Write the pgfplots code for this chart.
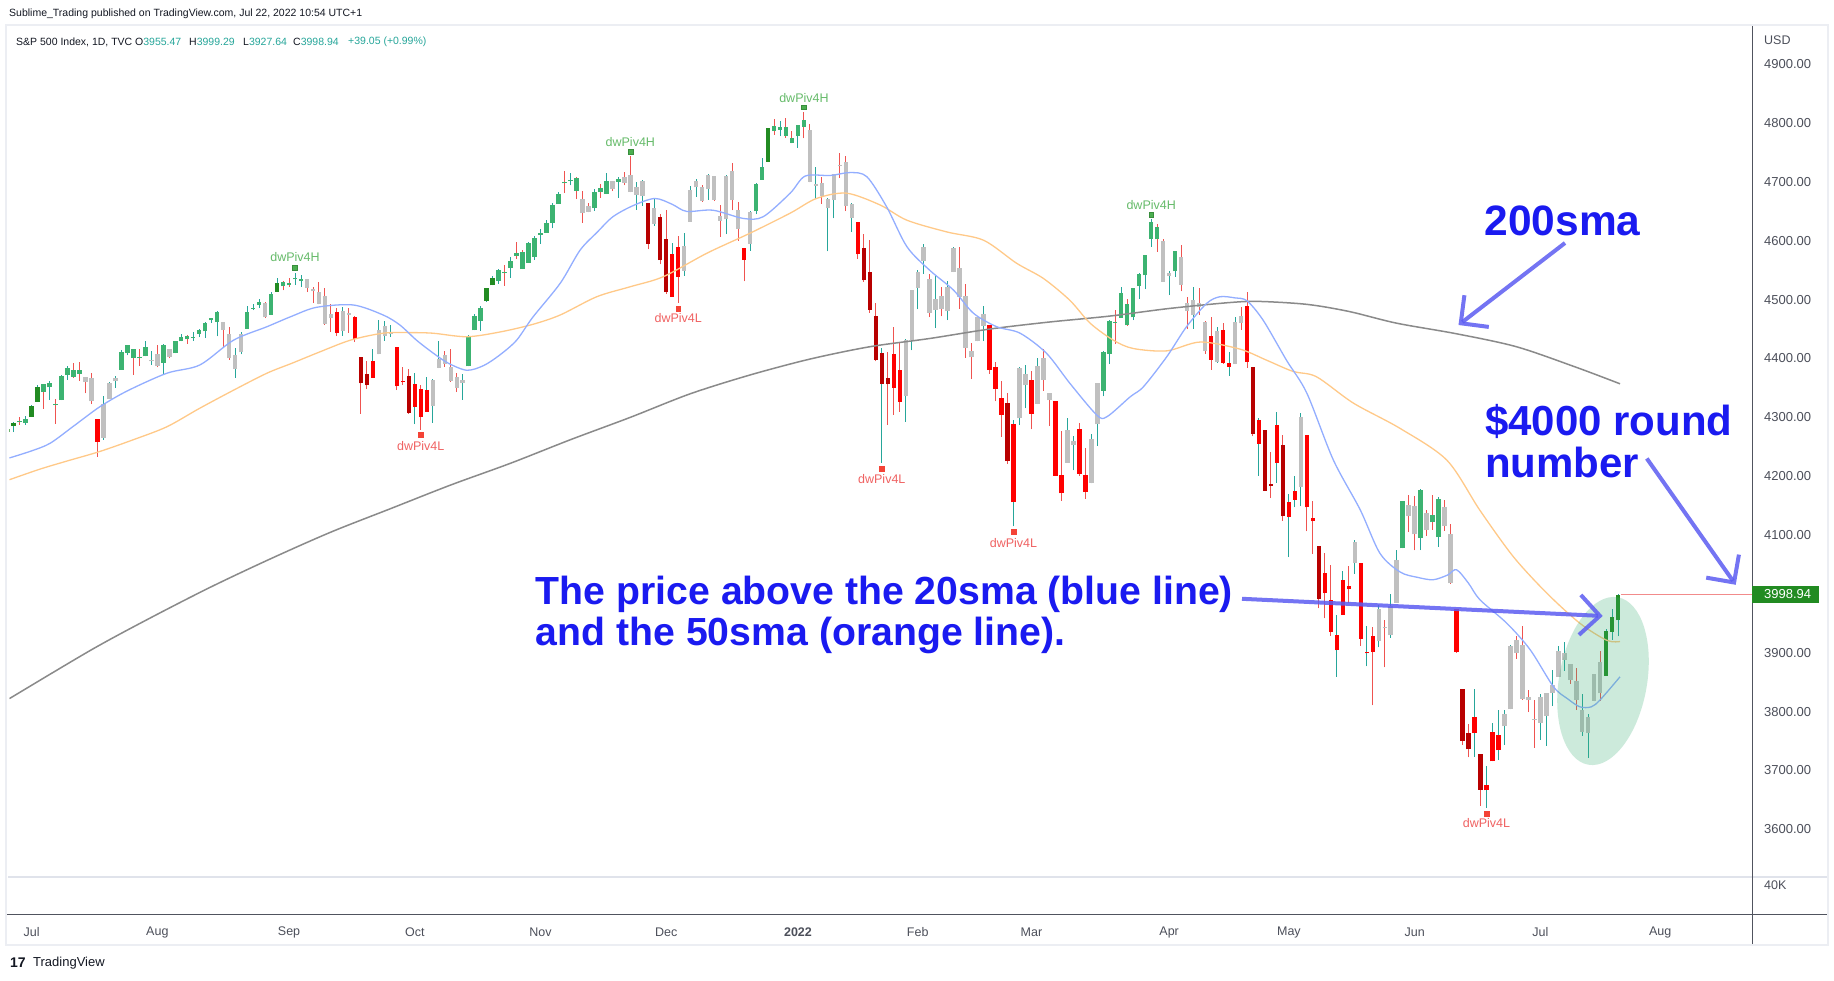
\documentclass[border=0pt]{standalone}
\usepackage{fontspec}
\setmainfont{Liberation Sans}
\usepackage{pgfplots}
\usepackage{pgfplotstable}
\pgfplotsset{compat=1.18}
\usetikzlibrary{arrows.meta,backgrounds}

\definecolor{upGreen}{HTML}{3CB371}
\definecolor{upDark}{HTML}{228B22}
\definecolor{flatGrey}{HTML}{C0C0C0}
\definecolor{dnRed}{HTML}{FF0000}
\definecolor{dnDark}{HTML}{B80000}
\definecolor{wickUp}{HTML}{26A69A}
\definecolor{wickDn}{HTML}{EF5350}
\definecolor{smaA}{HTML}{93AEFF}
\definecolor{smaB}{HTML}{FFC988}
\definecolor{smaC}{HTML}{8A8A8A}
\definecolor{ink}{HTML}{131722}
\definecolor{scaleText}{HTML}{4C4F5A}
\definecolor{frameGrey}{HTML}{ECEEF3}
\definecolor{sepGrey}{HTML}{E0E3EB}
\definecolor{axisDark}{HTML}{50535E}
\definecolor{pivH}{HTML}{4CAF50}
\definecolor{pivHd}{HTML}{388E3C}
\definecolor{pivHtext}{HTML}{66BB6A}
\definecolor{pivL}{HTML}{F44336}
\definecolor{pivLtext}{HTML}{F06262}
\definecolor{annot}{HTML}{1A1AF0}
\definecolor{arrowBlue}{HTML}{5C5CF2}
\definecolor{ellGreen}{HTML}{37AF73}
\definecolor{priceLine}{HTML}{F28B8B}
\definecolor{lastBox}{HTML}{228B22}
\definecolor{hdrNum}{HTML}{26A69A}

\newcommand{\fs}[1]{\fontsize{#1}{#1}\selectfont}

% i = trading-day index (0 = 1 Jul 2021), o h l c, k = bar colour group
\pgfplotstableread{
i o h l c k
-4 4274.4 4286.1 4271.2 4280.7 2
-3 4284.9 4292.1 4274.7 4290.6 2
-2 4293.2 4300.5 4287.0 4291.8 1
-1 4290.7 4302.4 4287.0 4297.5 1
0 4300.7 4320.7 4300.7 4319.9 2
1 4326.6 4355.4 4326.6 4352.3 2
2 4356.5 4356.5 4314.4 4343.5 1
3 4351.0 4361.9 4329.8 4358.1 1
4 4321.1 4330.9 4289.4 4320.8 1
5 4329.4 4371.6 4329.4 4369.6 1
6 4372.4 4386.7 4364.0 4384.6 1
7 4381.1 4392.4 4366.9 4369.2 1
8 4380.1 4393.7 4362.4 4374.3 1
9 4369.0 4369.0 4340.7 4360.0 3
10 4367.4 4375.1 4322.5 4327.2 3
11 4296.4 4296.4 4233.1 4258.5 4
12 4265.1 4336.8 4262.1 4323.1 3
13 4331.1 4359.7 4331.1 4358.7 3
14 4361.3 4369.9 4350.1 4367.5 3
15 4381.2 4415.2 4381.2 4411.8 1
16 4409.6 4422.7 4405.5 4422.3 1
17 4416.4 4416.4 4372.5 4401.5 1
18 4402.9 4415.5 4387.0 4400.6 1
19 4403.6 4430.0 4403.6 4419.2 1
20 4395.1 4412.3 4389.7 4395.3 3
21 4406.9 4422.2 4384.8 4387.2 3
22 4392.7 4423.8 4373.0 4423.2 1
23 4415.9 4416.2 4400.2 4402.7 3
24 4408.9 4429.8 4408.9 4429.1 1
25 4429.1 4440.8 4429.1 4436.5 1
26 4437.8 4439.4 4424.7 4432.4 1
27 4435.8 4445.2 4430.0 4436.8 1
28 4442.2 4449.4 4436.4 4447.7 1
29 4446.1 4461.8 4435.5 4460.8 1
30 4464.8 4468.4 4460.6 4468.0 1
31 4461.7 4480.3 4437.7 4479.7 1
32 4462.1 4462.1 4417.8 4448.1 3
33 4440.9 4454.3 4397.6 4400.3 3
34 4382.4 4418.6 4367.7 4405.8 3
35 4410.6 4444.4 4406.8 4441.7 3
36 4450.3 4489.9 4450.3 4479.5 1
37 4484.4 4492.8 4482.3 4486.2 1
38 4490.5 4501.7 4485.7 4496.2 1
39 4493.8 4495.9 4469.0 4470.0 3
40 4474.1 4513.3 4474.1 4509.4 1
41 4513.8 4537.4 4513.8 4528.8 2
42 4529.8 4531.4 4515.8 4522.7 1
43 4528.8 4537.1 4522.0 4524.1 1
44 4534.5 4545.9 4524.7 4537.0 1
45 4532.4 4541.5 4521.9 4535.4 1
46 4535.4 4535.4 4513.0 4520.0 3
47 4518.1 4521.8 4493.9 4514.1 3
48 4513.0 4529.9 4492.1 4493.3 3
49 4506.9 4520.5 4457.7 4458.6 3
50 4474.8 4492.0 4445.7 4468.7 3
51 4479.3 4485.7 4438.0 4443.1 4
52 4447.5 4486.9 4438.4 4480.7 3
53 4477.1 4485.9 4443.8 4473.8 3
54 4469.7 4471.5 4427.8 4433.0 4
55 4402.9 4402.9 4305.9 4357.7 5
56 4374.5 4394.9 4348.0 4354.2 5
57 4367.4 4416.8 4367.4 4395.6 4
58 4406.8 4465.4 4406.8 4449.0 3
59 4438.0 4463.1 4430.3 4455.5 3
60 4442.1 4457.3 4436.2 4443.1 3
61 4419.5 4419.5 4346.3 4352.6 4
62 4362.4 4385.6 4355.1 4359.5 4
63 4370.7 4382.6 4306.2 4307.5 5
64 4317.2 4375.2 4288.5 4357.0 4
65 4348.8 4355.5 4278.9 4300.5 4
66 4309.9 4369.2 4309.9 4345.7 4
67 4319.6 4365.6 4290.5 4363.6 3
68 4383.7 4429.0 4383.7 4399.8 3
69 4406.5 4412.0 4386.2 4391.3 3
70 4385.4 4415.9 4360.6 4361.2 3
71 4368.3 4374.9 4342.9 4350.7 3
72 4358.0 4372.9 4329.9 4363.8 3
73 4386.8 4439.7 4386.8 4438.3 1
74 4447.7 4475.8 4447.7 4471.4 1
75 4463.7 4488.8 4447.5 4486.5 1
76 4497.3 4520.4 4496.4 4519.6 2
77 4524.4 4540.9 4524.4 4536.2 2
78 4532.2 4551.4 4526.9 4549.8 1
79 4546.1 4559.7 4524.0 4544.9 1
80 4553.7 4572.6 4537.4 4566.5 1
81 4578.7 4598.5 4569.2 4574.8 1
82 4580.2 4584.6 4551.7 4551.7 1
83 4562.8 4597.6 4562.8 4596.4 1
84 4572.9 4608.1 4567.6 4605.4 1
85 4610.6 4620.3 4595.1 4613.7 1
86 4613.3 4635.2 4613.3 4630.7 1
87 4630.6 4663.5 4621.2 4660.6 1
88 4662.9 4683.0 4662.6 4680.1 1
89 4699.3 4718.5 4681.3 4697.5 1
90 4701.5 4714.9 4694.4 4701.7 1
91 4707.3 4708.5 4670.9 4685.3 1
92 4670.3 4684.9 4630.9 4646.7 3
93 4659.4 4664.6 4648.3 4649.3 3
94 4655.2 4688.5 4650.8 4682.9 1
95 4689.3 4697.4 4672.9 4682.8 1
96 4679.4 4714.9 4679.4 4700.9 1
97 4701.5 4701.5 4684.4 4688.7 3
98 4700.7 4708.8 4672.8 4704.5 1
99 4708.4 4717.8 4694.2 4698.0 3
100 4712.0 4743.8 4682.2 4682.9 3
101 4678.5 4699.4 4652.7 4690.7 3
102 4675.8 4702.9 4659.9 4701.5 3
103 4664.6 4664.6 4585.4 4594.6 5
104 4628.8 4672.9 4625.3 4655.3 3
105 4640.3 4646.0 4560.0 4567.0 5
106 4602.8 4652.9 4510.3 4513.0 5
107 4504.7 4595.5 4504.7 4577.1 4
108 4589.5 4608.0 4495.1 4538.4 4
109 4548.4 4612.6 4540.5 4591.7 3
110 4632.0 4694.0 4632.0 4686.8 3
111 4690.9 4705.1 4674.5 4701.2 3
112 4691.0 4695.3 4666.0 4667.5 3
113 4687.6 4713.6 4670.2 4712.0 3
114 4710.3 4710.3 4667.6 4669.0 3
115 4642.0 4660.5 4606.5 4634.1 3
116 4636.5 4712.6 4611.2 4709.9 3
117 4719.1 4732.0 4651.9 4668.7 3
118 4652.5 4666.7 4600.2 4620.6 3
119 4587.9 4587.9 4531.1 4568.0 4
120 4595.0 4651.1 4583.2 4649.2 3
121 4650.4 4697.7 4645.5 4696.6 1
122 4704.0 4740.7 4704.0 4725.8 1
123 4734.0 4791.5 4734.0 4791.2 2
124 4795.5 4807.0 4780.0 4786.4 1
125 4788.6 4804.1 4778.1 4793.1 1
126 4794.2 4808.9 4775.3 4778.7 1
127 4775.2 4786.8 4765.8 4766.2 1
128 4778.1 4796.6 4758.2 4796.6 1
129 4804.5 4818.6 4774.3 4793.5 1
130 4788.0 4797.7 4699.4 4700.6 3
131 4693.4 4725.0 4671.3 4696.1 3
132 4697.7 4708.0 4662.7 4677.0 3
133 4655.3 4673.0 4582.2 4670.3 3
134 4669.1 4714.1 4638.3 4713.1 3
135 4728.6 4748.8 4706.7 4726.4 3
136 4733.6 4744.1 4650.3 4659.0 3
137 4638.0 4665.1 4614.8 4662.9 3
138 4632.2 4632.2 4568.7 4577.1 4
139 4588.0 4611.6 4530.2 4532.8 5
140 4547.4 4602.1 4478.0 4482.7 5
141 4471.4 4494.5 4395.3 4397.9 5
142 4356.3 4417.4 4222.6 4410.1 5
143 4366.6 4411.0 4287.1 4356.5 5
144 4408.4 4453.2 4304.8 4349.9 4
145 4380.6 4428.7 4309.5 4326.5 4
146 4336.2 4432.7 4292.5 4431.9 3
147 4431.8 4516.9 4414.0 4515.6 3
148 4519.6 4550.5 4483.5 4546.5 3
149 4566.4 4595.3 4544.3 4589.4 3
150 4535.4 4542.9 4470.4 4477.4 3
151 4482.8 4539.7 4451.5 4500.5 3
152 4505.8 4521.9 4471.5 4483.9 3
153 4480.0 4531.3 4465.4 4521.5 3
154 4547.0 4590.0 4547.0 4587.2 3
155 4553.2 4588.9 4484.3 4504.1 3
156 4506.3 4526.3 4401.4 4418.6 3
157 4412.6 4426.2 4364.8 4401.7 3
158 4429.3 4472.8 4429.3 4471.1 3
159 4455.8 4489.6 4429.7 4475.0 3
160 4456.1 4456.1 4373.8 4380.3 4
161 4385.6 4394.8 4327.2 4348.9 4
162 4332.7 4362.1 4267.1 4304.8 4
163 4324.9 4341.5 4221.5 4225.5 5
164 4155.8 4294.7 4114.7 4288.7 4
165 4298.4 4385.3 4286.8 4384.7 3
166 4354.2 4388.8 4315.1 4373.9 3
167 4363.1 4378.5 4279.5 4306.3 4
168 4322.6 4401.5 4322.6 4386.5 3
169 4401.3 4416.8 4345.6 4363.5 3
170 4342.1 4342.1 4285.0 4328.9 3
171 4327.0 4327.0 4199.9 4201.1 4
172 4202.7 4276.9 4157.9 4170.7 4
173 4223.1 4299.4 4223.1 4277.9 3
174 4252.6 4268.3 4209.8 4259.5 3
175 4279.5 4291.0 4200.5 4204.3 4
176 4202.8 4247.6 4161.7 4173.1 4
177 4188.8 4271.1 4187.9 4262.5 3
178 4288.1 4358.0 4252.0 4357.9 3
179 4345.1 4412.7 4335.7 4411.7 1
180 4407.3 4465.4 4390.6 4463.1 1
181 4462.4 4481.8 4424.3 4461.2 1
182 4469.1 4522.0 4469.1 4511.6 1
183 4493.1 4501.1 4455.8 4456.2 1
184 4470.0 4520.6 4465.2 4520.2 1
185 4522.9 4546.0 4501.1 4543.1 1
186 4541.1 4575.7 4517.7 4575.5 1
187 4602.9 4637.3 4589.7 4631.6 1
188 4624.2 4627.8 4581.3 4602.5 1
189 4599.0 4603.1 4530.4 4530.4 3
190 4540.3 4548.7 4507.6 4545.9 3
191 4548.0 4583.5 4539.2 4582.6 1
192 4572.5 4593.5 4514.2 4525.1 3
193 4494.2 4503.9 4450.0 4481.2 3
194 4474.7 4521.2 4450.3 4500.2 3
195 4494.2 4520.4 4474.6 4488.3 3
196 4462.6 4464.4 4408.4 4412.5 3
197 4437.6 4471.0 4381.3 4397.5 4
198 4394.3 4453.9 4392.7 4446.6 3
199 4449.1 4460.5 4390.8 4392.6 4
200 4385.6 4410.3 4370.3 4391.7 4
201 4390.6 4471.0 4390.6 4462.2 3
202 4472.3 4488.3 4448.8 4459.5 3
203 4489.2 4512.9 4384.5 4393.7 4
204 4385.8 4385.8 4267.6 4271.8 5
205 4255.3 4299.0 4200.8 4296.1 4
206 4278.1 4278.1 4175.0 4175.2 5
207 4186.5 4240.7 4162.9 4184.0 5
208 4222.6 4308.5 4188.6 4287.5 4
209 4253.8 4269.7 4124.3 4131.9 5
210 4130.6 4169.8 4062.5 4155.4 4
211 4159.8 4200.1 4147.1 4175.5 4
212 4181.2 4307.7 4148.9 4300.2 3
213 4270.4 4270.4 4106.0 4146.9 4
214 4128.2 4157.7 4067.9 4123.3 4
215 4081.3 4081.3 3975.5 3991.2 5
216 4035.2 4068.8 3958.2 4001.1 4
217 3990.1 4049.1 3928.8 3935.2 4
218 3904.0 3964.8 3858.9 3930.1 4
219 3963.9 4038.9 3963.9 4023.9 4
220 4013.0 4046.5 3984.0 4008.0 4
221 4052.0 4090.7 4033.9 4088.9 3
222 4052.0 4052.0 3911.9 3923.7 4
223 3899.0 3946.0 3876.6 3900.8 4
224 3927.8 3943.4 3810.3 3901.4 4
225 3919.4 3981.9 3909.0 3973.8 3
226 3942.9 3955.7 3875.1 3941.5 3
227 3929.6 3999.3 3925.0 3978.7 3
228 3984.6 4075.1 3984.6 4057.8 3
229 4077.4 4158.5 4077.4 4158.2 1
230 4151.1 4168.3 4104.9 4132.2 3
231 4149.8 4166.5 4073.9 4101.2 3
232 4095.4 4177.5 4074.4 4176.8 1
233 4137.6 4142.7 4098.7 4108.5 3
234 4134.7 4168.8 4109.2 4121.4 1
235 4096.5 4164.9 4080.2 4160.7 1
236 4147.1 4160.1 4107.2 4115.8 3
237 4101.7 4119.1 4017.2 4017.8 3
238 3974.4 3974.4 3900.2 3900.9 4
239 3838.2 3838.2 3743.6 3749.6 5
240 3763.5 3778.2 3722.3 3735.5 5
241 3764.1 3837.9 3723.1 3790.0 4
242 3728.2 3728.2 3639.8 3666.8 5
243 3665.9 3707.7 3636.9 3674.8 4
244 3715.3 3779.7 3715.3 3764.8 4
245 3733.9 3801.8 3717.7 3759.9 4
246 3774.7 3802.6 3743.5 3795.7 3
247 3803.5 3913.7 3803.5 3911.7 3
248 3920.8 3927.7 3889.7 3900.1 3
249 3913.0 3945.9 3820.1 3821.6 3
250 3825.1 3836.5 3799.0 3818.8 3
251 3786.0 3819.0 3738.7 3785.4 3
252 3781.0 3829.8 3752.1 3825.3 3
253 3792.6 3832.2 3742.1 3831.4 3
254 3832.0 3870.9 3809.4 3845.1 3
255 3858.9 3910.6 3858.9 3902.6 3
256 3888.3 3918.5 3869.3 3899.4 3
257 3880.9 3880.9 3847.2 3854.4 3
258 3852.0 3873.4 3802.4 3818.8 3
259 3765.0 3829.4 3759.1 3801.8 3
260 3764.0 3796.4 3721.6 3790.4 3
261 3818.0 3863.6 3817.2 3863.2 3
262 3883.8 3902.4 3818.6 3830.9 3
263 3860.7 3939.8 3860.7 3936.7 2
264 3935.3 3974.1 3922.0 3959.9 2
265 3955.5 3999.3 3927.6 3998.9 2
}\candles

% moving averages
\pgfplotstableread{
i p
-3.7 4231
0 4243
3.1 4256
7 4285
11.4 4318
16 4345
22.6 4375
28.1 4389
33.7 4431
39.3 4454
43.5 4472
47.6 4487
53.7 4491
58.7 4474
61.5 4457
64.3 4431
67.1 4409
69.6 4392
72.7 4380
75.5 4388
78.2 4406
81 4431
83.7 4470
88.3 4528
91.6 4584
94.5 4615
97.1 4641
100.5 4660
104.1 4672
107 4662
109.4 4650
113.8 4652
118.9 4638
122.2 4641
126.7 4681
129.2 4710
133.4 4711
136.7 4716
139.5 4709
142.8 4658
146.2 4590
150 4550
154 4516
157.3 4477
161.2 4454
165.1 4443
169.5 4409
173.4 4358
177.9 4304
179.6 4301
183.5 4335
185.7 4352
189.6 4403
192.9 4454
196.3 4494
198.5 4505
201 4503
203 4498
205.7 4465
209.6 4397
213 4341
217.4 4228
221.9 4143
225.2 4069
228.6 4037
231.5 4028
234.1 4024
236.5 4032
238 4041
240 4018
241.9 3990
246.4 3950
250.3 3905
254.2 3842
256.5 3822
258.6 3808
260.5 3808
262 3820
265.3 3859
}\smaTwenty

\pgfplotstableread{
i p
-3.7 4194
1.4 4212
6 4226
11.4 4242
17 4262
22.6 4284
28 4315
33.7 4346
39.3 4375
43.5 4392
47.6 4409
53.2 4431
58.7 4443
63 4444
67 4443
72.7 4437
78.2 4445
83.7 4458
88.3 4474
94.4 4505
100 4522
105.5 4539
112.8 4579
120 4613
126.7 4647
131.1 4672
136.1 4681
141.7 4661
146.2 4635
152.9 4615
159 4601
164.5 4562
169 4536
173.4 4499
176.8 4460
180.7 4431
184 4417
189.6 4413
195.2 4428
201.8 4416
206.3 4397
210.7 4378
214.6 4369
220.8 4324
228.6 4281
236.4 4227
241.9 4142
247.5 4063
253.1 4001
258.6 3950
263.1 3921
265.3 3919
}\smaFifty

\pgfplotstableread{
i p
-3.7 3822
10 3905
20 3960
30 4012
40 4060
50 4105
60 4145
70 4185
80 4222
90 4262
100 4300
110 4340
120 4372
130 4399
140 4420
150 4434
160 4450
170 4462
180 4472
190 4485
200 4495
205 4497
213 4492
220 4480
228 4460
238 4442
248 4420
258 4385
265.3 4357
}\smaTwoHundred

\pgfplotsset{
  wickplot/.style={draw=none, mark=none, forget plot,
    error bars/y dir=plus, error bars/y explicit, error bars/error mark=none,
    error bars/error bar style={draw=#1, line width=1pt}},
  bodyplot/.style={draw=none, mark=none, forget plot,
    error bars/y dir=plus, error bars/y explicit, error bars/error mark=none,
    error bars/error bar style={draw=#1, line width=4.4pt}},
}

\begin{document}
\begin{tikzpicture}[x=1pt,y=1pt]
\begin{axis}[
  name=main,
  scale only axis, width=1742.6pt, height=852pt,
  xmin=-3.71, xmax=287.35, ymin=3518.8, ymax=4966.8,
  axis line style={draw=none}, tick style={draw=none}, major tick length=0pt,
  clip mode=individual,
  ytick={3600,3700,3800,3900,4100,4200,4300,4400,4500,4600,4700,4800,4900},
  yticklabels={3600.00,3700.00,3800.00,3900.00,4100.00,4200.00,4300.00,4400.00,4500.00,4600.00,4700.00,4800.00,4900.00},
  yticklabel pos=right,
  yticklabel style={anchor=west, inner sep=0pt, xshift=12pt, font=\fs{13}, text=scaleText},
  xtick={0,21,43,64,85,106,128,148,167,190,210,231,252,272},
  xticklabels={Jul,Aug,Sep,Oct,Nov,Dec,\textbf{2022},Feb,Mar,Apr,May,Jun,Jul,Aug},
  xticklabel style={anchor=center, inner sep=0pt, yshift=-55pt, font=\fs{12.5}, text=scaleText},
]
% wicks
\addplot[wickplot=wickUp, restrict expr to domain={\thisrow{c}-\thisrow{o}}{0:100000}]
  table[x=i, y=l, y error plus expr={\thisrow{h}-\thisrow{l}}] {\candles};
\addplot[wickplot=wickDn, restrict expr to domain={\thisrow{c}-\thisrow{o}}{-100000:-0.001}]
  table[x=i, y=l, y error plus expr={\thisrow{h}-\thisrow{l}}] {\candles};
% bodies by colour group
\addplot[bodyplot=upGreen, restrict expr to domain={\thisrow{k}}{0.5:1.5}]
  table[x=i, y expr={min(\thisrow{o},\thisrow{c})}, y error plus expr={max(abs(\thisrow{c}-\thisrow{o}),1.5)}] {\candles};
\addplot[bodyplot=upDark, restrict expr to domain={\thisrow{k}}{1.5:2.5}]
  table[x=i, y expr={min(\thisrow{o},\thisrow{c})}, y error plus expr={max(abs(\thisrow{c}-\thisrow{o}),1.5)}] {\candles};
\addplot[bodyplot=flatGrey, restrict expr to domain={\thisrow{k}}{2.5:3.5}]
  table[x=i, y expr={min(\thisrow{o},\thisrow{c})}, y error plus expr={max(abs(\thisrow{c}-\thisrow{o}),1.5)}] {\candles};
\addplot[bodyplot=dnRed, restrict expr to domain={\thisrow{k}}{3.5:4.5}]
  table[x=i, y expr={min(\thisrow{o},\thisrow{c})}, y error plus expr={max(abs(\thisrow{c}-\thisrow{o}),1.5)}] {\candles};
\addplot[bodyplot=dnDark, restrict expr to domain={\thisrow{k}}{4.5:5.5}]
  table[x=i, y expr={min(\thisrow{o},\thisrow{c})}, y error plus expr={max(abs(\thisrow{c}-\thisrow{o}),1.5)}] {\candles};

% moving averages
\addplot[smaC, line width=1.5pt, smooth, tension=0.5] table[x=i, y=p] {\smaTwoHundred};
\addplot[smaB, line width=1.3pt, smooth, tension=0.5] table[x=i, y=p] {\smaFifty};
\addplot[smaA, line width=1.3pt, smooth, tension=0.5] table[x=i, y=p] {\smaTwenty};

% last price line
\addplot[priceLine, line width=1.2pt] coordinates {(265.5,3998.94) (287.35,3998.94)};

% pivots
\addplot[only marks, mark=square*, mark size=2.4pt, mark options={fill=pivH, draw=pivHd}]
  coordinates {(44,4554) (100,4752) (129,4827) (187,4645)};
\addplot[only marks, mark=square*, mark size=2.4pt, mark options={fill=pivL, draw=pivL}]
  coordinates {(65,4270) (108,4485) (142,4213) (164,4105) (243,3627)};
\foreach \px/\py in {44/4572, 100/4768, 129/4843, 187/4661}
  {\edef\tmp{\noexpand\node[text=pivHtext, font=\noexpand\fs{12.5}] at (axis cs:\px,\py) {dwPiv4H};}\tmp}
\foreach \px/\py in {65/4252, 108/4468, 142/4196, 164/4087, 243/3610}
  {\edef\tmp{\noexpand\node[text=pivLtext, font=\noexpand\fs{12.5}] at (axis cs:\px,\py) {dwPiv4L};}\tmp}
\coordinate (AxSW) at (rel axis cs:0,0);
\end{axis}

% everything else in page pixels (origin bottom-left), tied to the axis corner
\begin{scope}[shift={(AxSW)}]
\begin{scope}[shift={(-9.4,-103)}]
\begin{scope}[on background layer]
\fill[white] (0,0) rectangle (1834,980);
\end{scope}
\node[anchor=west, inner sep=0pt, text=ink, font=\fs{10.5}] at (9,966)
  {Sublime\_Trading published on TradingView.com, Jul 22, 2022 10:54 UTC+1};
\draw[frameGrey, line width=2.5pt] (6,35) rectangle (1828,955);

% scales and panes
\draw[sepGrey, line width=1.2pt] (8,103) -- (1827,103);
\draw[axisDark, line width=1pt] (1752,36) -- (1752,954);
\draw[axisDark, line width=1pt] (7,66) -- (1827,66);
\node[anchor=west, inner sep=0pt, text=scaleText, font=\fs{12.5}] at (1764,940) {USD};
\node[anchor=west, inner sep=0pt, text=scaleText, font=\fs{12.5}] at (1764,95) {40K};
\fill[lastBox] (1752,377) rectangle (1819,394);
\node[anchor=west, inner sep=0pt, text=white, font=\fs{13}] at (1764,385.5) {3998.94};

% header
\node[anchor=west, inner sep=0pt, text=ink, font=\fs{10.5}] at (16,938) {S\&P 500 Index, 1D, TVC};
\node[anchor=west, inner sep=0pt, text=ink, font=\fs{10.5}] at (135,938) {O\textcolor{hdrNum}{3955.47}};
\node[anchor=west, inner sep=0pt, text=ink, font=\fs{10.5}] at (189,938) {H\textcolor{hdrNum}{3999.29}};
\node[anchor=west, inner sep=0pt, text=ink, font=\fs{10.5}] at (243,938) {L\textcolor{hdrNum}{3927.64}};
\node[anchor=west, inner sep=0pt, text=ink, font=\fs{10.5}] at (293,938) {C\textcolor{hdrNum}{3998.94}};
\node[anchor=west, inner sep=0pt, text=hdrNum, font=\fs{10.5}] at (348,938) {+39.05 (+0.99\%)};

% logo
\node[anchor=west, inner sep=0pt, text=ink, font=\fs{14}\bfseries] at (10,17) {17};
\node[anchor=west, inner sep=0pt, text=ink, font=\fs{13}] at (33,17) {TradingView};

% annotations
\fill[ellGreen, fill opacity=0.25, rotate around={-10:(1603,299)}] (1603,299) ellipse (44pt and 85pt);
\draw[arrowBlue, opacity=0.85, line width=4pt, -{Straight Barb[length=20pt, width=40pt]}] (1565,737) -- (1458.5,655);
\draw[arrowBlue, opacity=0.85, line width=4pt, -{Straight Barb[length=20pt, width=40pt]}] (1646.8,521.5) -- (1735.7,395.2);
\draw[arrowBlue, opacity=0.85, line width=4pt, -{Straight Barb[length=20pt, width=40pt]}] (1242,381.2) -- (1602.7,364);
\node[text=annot, font=\fs{42.5}\bfseries, inner sep=0pt] at (1562.6,759) {200sma};
\node[anchor=west, text=annot, font=\fs{42}\bfseries, inner sep=0pt] at (1485,559) {\$4000 round};
\node[anchor=west, text=annot, font=\fs{42}\bfseries, inner sep=0pt] at (1485,518) {number};
\node[anchor=west, text=annot, font=\fs{39.2}\bfseries, inner sep=0pt] at (535.7,386) {The price above the 20sma (blue line)};
\node[anchor=west, text=annot, font=\fs{39.2}\bfseries, inner sep=0pt] at (535.7,345) {and the 50sma (orange line).};

\pgfresetboundingbox
\path[use as bounding box] (0,0) rectangle (1834,980);
\end{scope}
\end{scope}
\end{tikzpicture}
\end{document}
